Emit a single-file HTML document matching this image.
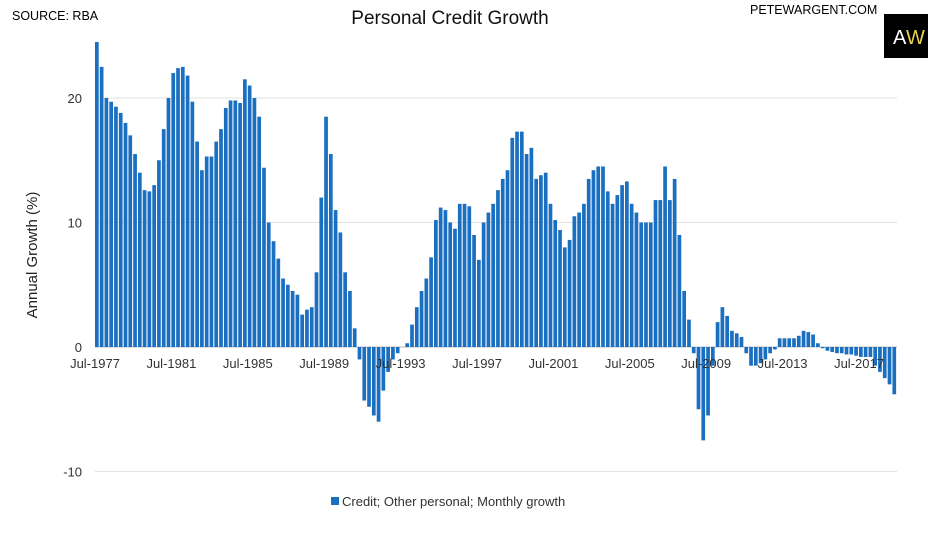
<!DOCTYPE html>
<html><head><meta charset="utf-8"><style>
body{margin:0;background:#fff;width:941px;height:538px;overflow:hidden;font-family:"Liberation Sans",sans-serif;}
</style></head><body>
<svg width="941" height="538">
<text x="12" y="20" font-size="12.5" fill="#000">SOURCE: RBA</text>
<text x="450" y="24" font-size="19" text-anchor="middle" fill="#111">Personal Credit Growth</text>
<text x="750" y="14" font-size="12.5" fill="#000">PETEWARGENT.COM</text>
<g>
<rect x="884" y="14" width="44" height="44" fill="#000"/>
<text x="893" y="44" font-size="20" fill="#fff">A</text><text x="906" y="44" font-size="20" fill="#e8d44d">W</text>
</g>
<text transform="translate(37,255) rotate(-90)" font-size="15" text-anchor="middle" fill="#222">Annual Growth (%)</text>
<g id="grid"></g><g id="bars"></g><g id="xl"></g>
<g>
<rect x="331" y="497" width="8" height="8" fill="#1a6fc0"/>
<text x="342" y="506" font-size="13" fill="#333">Credit; Other personal; Monthly growth</text>
</g>
</svg>
<script>
const startYear = 1977.5;
const yTicks = [20, 10, 0, -10];
const xTickLabels = ["Jul-1977","Jul-1981","Jul-1985","Jul-1989","Jul-1993","Jul-1997","Jul-2001","Jul-2005","Jul-2009","Jul-2013","Jul-2017"];
const xTickYears = [1977.5,1981.5,1985.5,1989.5,1993.5,1997.5,2001.5,2005.5,2009.5,2013.5,2017.5];
const growth = [24.5,22.5,
20,19.7,19.3,18.8, 18,17,15.5,14, 12.6,12.5,13,15, 17.5,20,22,22.4, 22.5,21.8,19.7,16.5,
14.2,15.3,15.3,16.5, 17.5,19.2,19.8,19.8, 19.6,21.5,21,20, 18.5,14.4,10,8.5, 7.1,5.5,5,4.5,
4.2,2.6,3,3.2, 6,12,18.5,15.5, 11,9.2,6,4.5, 1.5,-1,-4.3,-4.8, -5.5,-6,-3.5,-2,
-1,-0.5,0,0.3, 1.8,3.2,4.5,5.5, 7.2,10.2,11.2,11, 10,9.5,11.5,11.5, 11.3,9,7,10,
10.8,11.5,12.6,13.5, 14.2,16.8,17.3,17.3, 15.5,16,13.5,13.8, 14,11.5,10.2,9.4, 8,8.6,10.5,10.8,
11.5,13.5,14.2,14.5, 14.5,12.5,11.5,12.2, 13,13.3,11.5,10.8, 10,10,10,11.8, 11.8,14.5,11.8,13.5,
9,4.5,2.2,-0.5, -5,-7.5,-5.5,-1.5, 2,3.2,2.5,1.3, 1.1,0.8,-0.5,-1.5, -1.5,-1.3,-1,-0.5,
-0.2,0.7,0.7,0.7, 0.7,0.9,1.3,1.2, 1,0.3,-0.1,-0.3, -0.4,-0.5,-0.5,-0.6, -0.6,-0.7,-0.8,-0.8,
-0.8,-1.5,-2,-2.5, -3,-3.8];
const NS="http://www.w3.org/2000/svg";
const X0=95, X1=897, PXY=19.1;
function xs(t){return X0+(t-startYear)*PXY;}
function ys(v){return 347-v*12.45;}
function mk(tag,attrs,parent){const e=document.createElementNS(NS,tag);for(const k in attrs)e.setAttribute(k,attrs[k]);parent.appendChild(e);return e;}
const grid=document.getElementById('grid');
yTicks.forEach(v=>{
  const l=mk('line',{x1:X0,x2:X1,y1:ys(v),y2:ys(v),stroke:v===0?'#bbb':'#e2e2e2','stroke-width':1},grid);
  
  
  const t=mk('text',{x:82,y:ys(v)+5,'font-size':13,'text-anchor':'end',fill:'#333'},grid);
  t.textContent=String(v);
  
  
});
const bars=document.getElementById('bars');
growth.forEach((v,i)=>{
  const t=startYear+i*0.25;
  const y0=ys(0), y=ys(v);
  const r=mk('rect',{x:xs(t),y:Math.min(y,y0),width:3.7,height:Math.abs(y0-y),fill:'#1a6fc0'},bars);
  
  
});
const xl=document.getElementById('xl');
xTickLabels.forEach((s,i)=>{
  const t=mk('text',{x:xs(xTickYears[i]),y:368,'font-size':13,'text-anchor':'middle',fill:'#333'},xl);
  t.textContent=s;
  
  
});
</script>
</body></html>
